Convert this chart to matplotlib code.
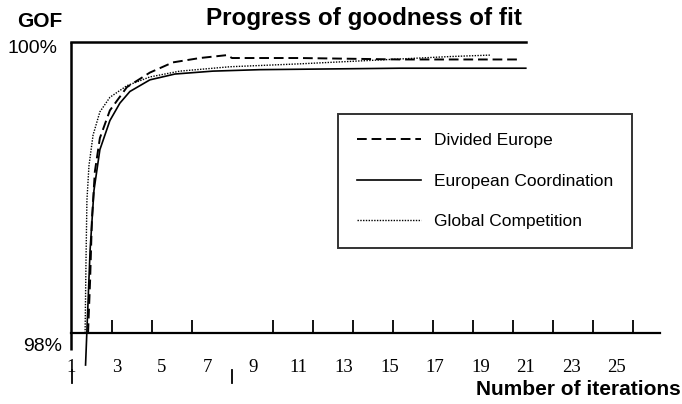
import matplotlib
matplotlib.use("Agg")
import matplotlib.pyplot as plt

# values
iters_coord = [1.64, 1.84, 2.01, 2.27, 2.71, 3.15, 3.59, 4.47, 5.57, 7.24, 9.31, 15.46, 21.0]
gof_coord = [97.78, 98.57, 98.98, 99.26, 99.46, 99.58, 99.66, 99.74, 99.78, 99.80, 99.81, 99.82, 99.82]

iters_div = [1.75, 1.84, 1.92, 2.05, 2.27, 2.71, 3.46, 4.47, 5.48, 6.67, 7.86, 8.08, 11.07, 15.46, 20.78]
gof_div = [98.00, 98.36, 98.78, 99.11, 99.34, 99.53, 99.69, 99.79, 99.86, 99.89, 99.91, 99.89, 99.89, 99.88, 99.88]

iters_glob = [1.62, 1.66, 1.70, 1.79, 1.97, 2.27, 2.71, 3.46, 4.47, 5.79, 7.99, 11.07, 15.02, 17.66, 19.42]
gof_glob = [98.00, 98.50, 98.91, 99.15, 99.36, 99.52, 99.62, 99.70, 99.76, 99.80, 99.83, 99.85, 99.88, 99.90, 99.91]

tick_labels = [1, 3, 5, 7, 9, 11, 13, 15, 17, 19, 21, 23, 25]
tick_marks = [2.80, 4.56, 6.32, 9.88, 11.64, 13.40, 15.15, 16.91, 18.67, 20.43, 22.19, 23.95, 25.70]
low_marks = [1.04, 8.08]

fig = plt.figure(figsize=(6.82, 4.04), dpi=100)
ax = fig.add_axes([0.1041, 0.1757, 0.8636, 0.7203])
ax.set_xlim(1, 26.9)
ax.set_ylim(98, 100)

for s in ["top", "right", "left"]:
    ax.spines[s].set_visible(False)
ax.spines["bottom"].set_linewidth(1.6)

# frame lines of the original drawing
ax.plot([1, 1], [97.88, 100], color="black", lw=1.8, clip_on=False, solid_capstyle="butt")
ax.plot([1, 21], [100, 100], color="black", lw=1.8, clip_on=False)
for m in low_marks:
    ax.plot([m, m], [97.745, 97.655], color="black", lw=1.3, clip_on=False)

ax.plot(iters_div, gof_div, color="black", lw=1.4, ls=(0, (5, 2.5)),
        label="Divided Europe", clip_on=False)
ax.plot(iters_coord, gof_coord, color="black", lw=1.2,
        label="European Coordination", clip_on=False)
ax.plot(iters_glob, gof_glob, color="black", lw=1.0, ls=(0, (1, 1)),
        label="Global Competition", clip_on=False)

ax.set_yticks([])
ax.set_xticks(tick_labels)
ax.set_xticklabels([str(t) for t in tick_labels], family="Liberation Serif", fontsize=13.5)
ax.tick_params(axis="x", which="major", length=0, pad=19)
ax.set_xticks(tick_marks, minor=True)
ax.tick_params(axis="x", which="minor", direction="in", length=9.5, width=1.3)

leg = ax.legend(loc="upper left", bbox_to_anchor=(0.4956, 0.7178),
                bbox_transform=fig.transFigure, fancybox=False, frameon=True,
                edgecolor="black", prop={"family": "Liberation Sans", "size": 12.5},
                handlelength=3.7, handletextpad=0.75, labelspacing=1.47,
                borderpad=1.09, borderaxespad=0)
leg.get_frame().set_linewidth(1.4)

fig.text(0.059, 0.948, "GOF", ha="center", va="center", fontsize=15,
         fontweight="bold", family="Liberation Sans")
fig.text(0.534, 0.955, "Progress of goodness of fit", ha="center", va="center",
         fontsize=17.5, fontweight="bold", family="Liberation Sans")
fig.text(0.084, 0.881, "100%", ha="right", va="center", fontsize=14,
         family="Liberation Sans")
fig.text(0.091, 0.143, "98%", ha="right", va="center", fontsize=14,
         family="Liberation Sans")
fig.text(0.998, 0.037, "Number of iterations", ha="right", va="center",
         fontsize=15, fontweight="bold", family="Liberation Sans")

fig.savefig("out.png", dpi=100)
